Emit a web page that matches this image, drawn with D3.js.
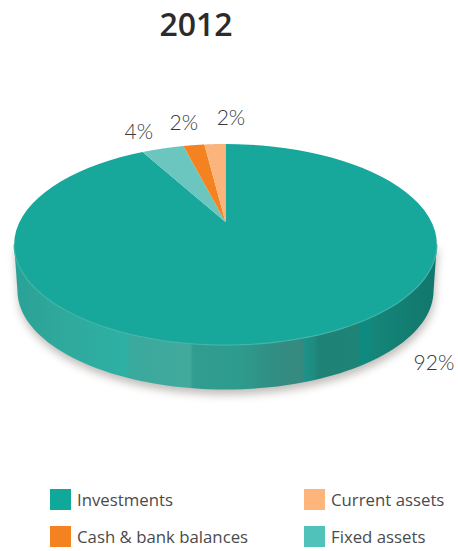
<!DOCTYPE html>
<html>
<head>
<meta charset="utf-8">
<style>
html, body { margin: 0; padding: 0; background: #fff; }
svg { display: block; }
.title { font-family: "Open Sans", sans-serif; font-weight: 600; font-size: 32px; fill: #2b2b2b; }
.pct { font-family: Lato, sans-serif; font-weight: 300; font-size: 21px; fill: #3a3a3c; }
.legendLabel { font-family: "Open Sans", sans-serif; font-size: 16.8px; fill: #4a4a4c; }
</style>
<script src="https://cdn.jsdelivr.net/npm/d3@7"></script>
</head>
<body>
<script>
const title = '2012';
const categories = ['Investments', 'Fixed assets', 'Cash & bank balances', 'Current assets'];
const shares = [92, 4, 2, 2];
const colors = ['#18a79b', '#6cc6c0', '#f58220', '#fbb57c'];
const legendOrder = ['Investments', 'Cash & bank balances', 'Current assets', 'Fixed assets'];
const legendColors = ['#10a898', '#f58220', '#fdb57b', '#50c2ba'];

const W = 458, H = 551;
// pie tilt: far side is squashed, so the apex sits above the middle of the ellipse
const apex = {x: 225.5, y: 222}, tilt = 0.224, spreadX = 206, spreadY = 95.5;
const wallDepth = 46.8, wallShrink = 0.985;

const project = (a, r = 1) => {
    const u = r * Math.sin(a), v = -r * Math.cos(a);
    const w = 1 - tilt * v;
    return [apex.x + spreadX * u / w, apex.y + spreadY * v / w];
};
const line = d3.line();
const arcPoints = (a0, a1, n = 80) => d3.range(n + 1).map(i => project(a0 + (a1 - a0) * i / n));

const svg = d3.select('body').append('svg').attr('width', W).attr('height', H);
const defs = svg.append('defs');

defs.append('filter').attr('id', 'blur')
    .attr('x', '-10%').attr('y', '-10%').attr('width', '120%').attr('height', '130%')
    .append('feGaussianBlur').attr('stdDeviation', 4);

// hand shaded side of the disc
const wallX = d3.scaleLinear().domain([0, W]).range([0, 1]);
const wallStops = [
    [14, '#2aa196'], [60, '#2fa99c'], [125, '#2eb0a4'], [132, '#3aa99d'], [190, '#43a99d'],
    [193, '#319d91'], [240, '#2e9b8f'], [270, '#318f84'], [302, '#37897e'], [305, '#1d9288'],
    [315, '#1f8a7e'], [318, '#1f8276'], [358, '#1f8376'], [361, '#0f8a80'], [369, '#0f8a80'],
    [372, '#15867a'], [437, '#12766c']
];
defs.append('linearGradient').attr('id', 'wall')
    .attr('gradientUnits', 'userSpaceOnUse')
    .attr('x1', 0).attr('x2', W).attr('y1', 0).attr('y2', 0)
    .selectAll('stop').data(wallStops).join('stop')
    .attr('offset', d => wallX(d[0]))
    .attr('stop-color', d => d[1]);

// angle where the rim is widest, the wall starts there
const sideAngle = Math.PI / 2 + Math.asin(tilt);
const frontPoints = d3.range(81).map(i => {
    const a = Math.PI * 2 - sideAngle - (Math.PI * 2 - 2 * sideAngle) * i / 80;
    const p = project(a, wallShrink);
    return [p[0], p[1] + wallDepth];
});
const wallPath = line([project(-sideAngle), ...frontPoints, project(sideAngle)]) + 'Z';

svg.append('path').attr('d', wallPath)
    .attr('transform', 'translate(1,5)')
    .attr('fill', '#8d8580').attr('opacity', 0.55).attr('filter', 'url(#blur)');
svg.append('path').attr('d', wallPath).attr('fill', 'url(#wall)');

// top face, clockwise from twelve o'clock
const pie = d3.pie().sort(null);
const slices = pie(shares);
svg.append('g').selectAll('path').data(slices).join('path')
    .attr('d', d => line([[apex.x, apex.y], ...arcPoints(d.startAngle, d.endAngle)]) + 'Z')
    .attr('fill', (d, i) => colors[i]);

// light edge along the front of the rim
svg.append('path')
    .attr('d', line(arcPoints(sideAngle, Math.PI * 2 - sideAngle)))
    .attr('fill', 'none').attr('stroke', '#45b5a9').attr('stroke-width', 1.2);

// percent labels, nudged off the rim point of each slice
const labelNudge = [[143, 30], [-24, -10], [-10, -15], [16, -19]];
svg.append('g').selectAll('text').data(slices).join('text')
    .attr('class', 'pct')
    .attr('text-anchor', 'middle')
    .attr('x', (d, i) => project((d.startAngle + d.endAngle) / 2)[0] + labelNudge[i][0])
    .attr('y', (d, i) => project((d.startAngle + d.endAngle) / 2)[1] + labelNudge[i][1])
    .text((d, i) => d.value + '%');

svg.append('text').attr('class', 'title')
    .attr('x', 196).attr('y', 36).attr('text-anchor', 'middle').text(title);

// legend, two columns filled top to bottom
const colX = d3.scalePoint().domain([0, 1]).range([50, 304]);
const rowY = d3.scalePoint().domain([0, 1]).range([489, 526]);
const swatch = 21;
const legend = svg.append('g').selectAll('g').data(legendOrder).join('g')
    .attr('transform', (d, i) => `translate(${colX(Math.floor(i / 2))},${rowY(i % 2)})`);
legend.append('rect')
    .attr('width', swatch).attr('height', swatch)
    .attr('fill', (d, i) => legendColors[i]);
legend.append('text')
    .attr('class', 'legendLabel')
    .attr('x', swatch + 6).attr('y', 17)
    .text(d => d);
</script>
</body>
</html>
